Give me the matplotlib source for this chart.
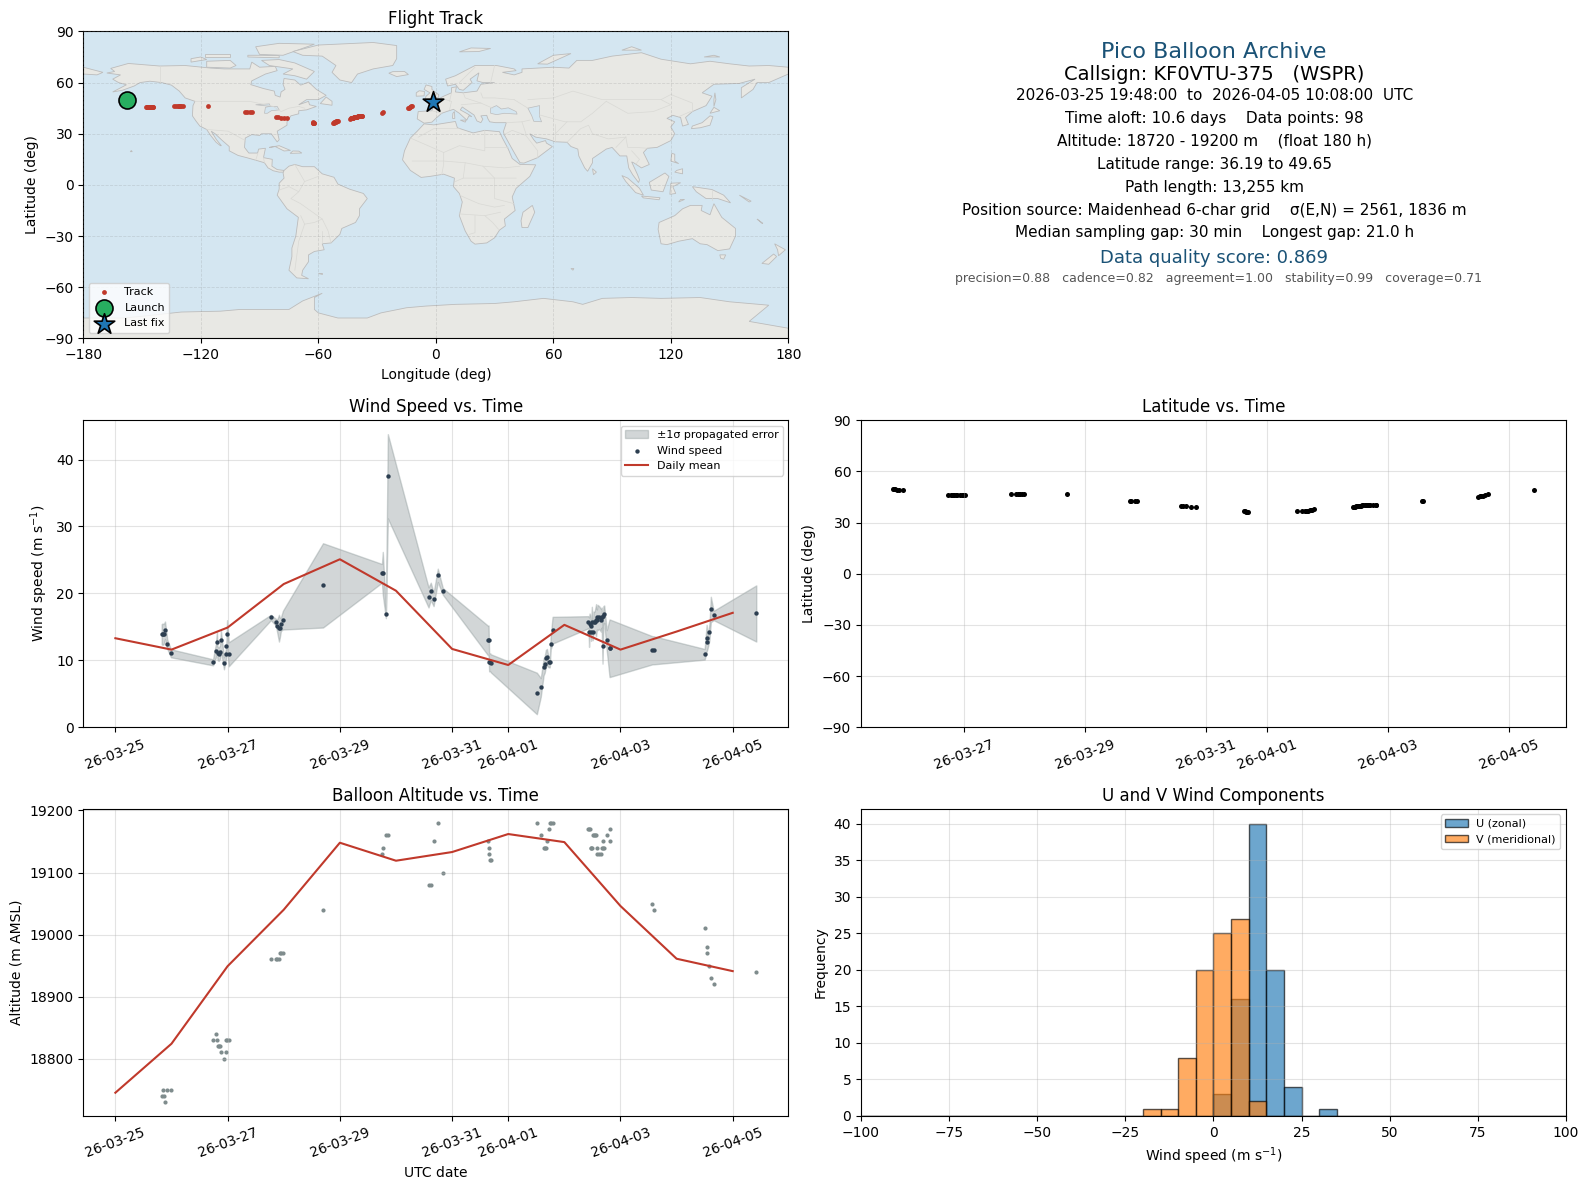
import matplotlib
matplotlib.use('Agg')
import matplotlib.pyplot as plt
import matplotlib.dates as mdates
import numpy as np
import pandas as pd

# Per-fix values, days are counted from 2026-03-25 00:00 UTC
fix_day = [0.825, 0.84, 0.86, 0.885, 0.925, 0.99,
           1.74, 1.79, 1.81, 1.82, 1.84, 1.865, 1.88, 1.935, 1.97, 1.98, 1.99, 2.02,
           2.77, 2.86, 2.885, 2.915, 2.93, 2.95, 2.985,
           3.70,
           4.75, 4.765, 4.82, 4.855,
           5.58, 5.62, 5.67, 5.745, 5.835,
           6.635, 6.65, 6.66, 6.68, 6.69,
           7.51, 7.58, 7.63, 7.65, 7.67, 7.69, 7.72, 7.74, 7.755, 7.79,
           8.43, 8.44, 8.45, 8.47, 8.475, 8.49, 8.505, 8.52, 8.54, 8.565, 8.58,
           8.59, 8.62, 8.65, 8.665, 8.68, 8.695, 8.71, 8.755, 8.805, 8.81,
           9.57, 9.59,
           10.50, 10.535, 10.55, 10.585, 10.61, 10.66,
           11.42]
wind_speed = [13.9, 13.9, 13.9, 14.5, 12.4, 11.05,
              9.7, 11.4, 12.7, 11.05, 10.9, 11.2, 13.0, 9.55, 10.9, 12.1, 14.0, 10.9,
              16.4, 15.7, 15.1, 14.8, 14.9, 15.4, 16.0,
              21.2,
              23.0, 23.0, 16.9, 37.5,
              19.4, 20.3, 19.1, 22.7, 20.3,
              13.0, 13.0, 9.7, 9.7, 9.55,
              5.05, 5.95, 9.0, 9.4, 10.3, 10.45, 9.7, 9.7, 12.5, 14.5,
              15.7, 14.2, 15.5, 15.1, 14.2, 15.8, 14.2, 15.8, 15.8, 16.0, 16.1,
              16.4, 16.4, 16.0, 16.4, 12.2, 16.6, 16.9, 13.0, 11.8, 11.8,
              11.5, 11.5,
              10.9, 13.3, 12.7, 14.2, 17.6, 16.7,
              17.0]
wind_sigma = [1.5, 1.6, 1.5, 1.3, 0.7, 0.6,
              0.45, 1.0, 1.6, 1.0, 1.0, 1.0, 1.5, 0.9, 0.8, 1.0, 2.0, 1.8,
              0.4, 0.5, 1.0, 2.0, 1.5, 1.0, 1.4,
              6.3,
              1.4, 3.2, 0.6, 6.3,
              1.5, 1.3, 1.0, 1.0, 0.5,
              2.2, 2.2, 1.35, 1.35, 1.35,
              3.1, 1.4, 1.25, 1.25, 1.25, 1.25, 0.75, 0.75, 0.9, 2.0,
              0.9, 2.2, 1.5, 1.5, 1.3, 2.2, 1.2, 1.5, 1.5, 2.4, 1.5,
              1.9, 1.7, 1.7, 1.5, 2.7, 1.5, 1.3, 1.5, 4.3, 4.3,
              2.1, 2.1,
              0.8, 2.0, 1.0, 1.2, 1.9, 0.7,
              4.2]
altitude = [18740, 18750, 18740, 18730, 18750, 18750,
            18830, 18840, 18830, 18820, 18820, 18820, 18810, 18800, 18810, 18830, 18830, 18830,
            18960, 18960, 18960, 18960, 18970, 18970, 18970,
            19040,
            19130, 19140, 19160, 19160,
            19080, 19080, 19150, 19180, 19100,
            19150, 19140, 19130, 19120, 19120,
            19180, 19160, 19140, 19140, 19140, 19150, 19170, 19180, 19180, 19180,
            19170, 19170, 19170, 19140, 19140, 19140, 19160, 19160, 19160, 19160, 19140,
            19130, 19130, 19130, 19140, 19140, 19150, 19140, 19160, 19170, 19150,
            19050, 19040,
            19010, 18980, 18970, 18950, 18930, 18920,
            18940]
latitude = [49.65, 49.6, 49.5, 49.3, 48.9, 48.8,
            45.9, 45.9, 45.9, 45.9, 45.9, 45.9, 45.9, 45.9, 45.9, 45.9, 45.9, 45.9,
            46.5, 46.5, 46.5, 46.5, 46.5, 46.5, 46.5,
            46.5,
            42.9, 42.9, 42.9, 42.9,
            39.6, 39.6, 39.5, 39.2, 39.0,
            36.7, 36.5, 36.4, 36.3, 36.19,
            36.5, 36.5, 36.6, 36.7, 36.9, 37.0, 37.2, 37.4, 37.5, 37.7,
            38.9, 39.0, 39.1, 39.3, 39.4, 39.5, 39.6, 39.7, 39.8, 39.9, 40.0,
            40.0, 40.1, 40.2, 40.2, 40.2, 40.2, 40.3, 40.3, 40.3, 40.3,
            42.4, 42.5,
            45.1, 45.3, 45.5, 45.7, 46.1, 46.5,
            48.9]
longitude = [-157.8, -157.3, -156.8, -156.3, -155.5, -154.5,
             -148, -147.7, -147.4, -147.1, -146.8, -146.5, -146.2, -145.7, -145.2, -144.9, -144.6, -144.2,
             -133.5, -132.5, -131.8, -131.2, -130.6, -130, -129.2,
             -116.4,
             -97.4, -96.6, -95, -94,
             -81.5, -80.5, -79, -77.5, -76,
             -62.8, -62.6, -62.5, -62.3, -62.2,
             -52.6, -52.2, -51.9, -51.6, -51.3, -51.1, -50.8, -50.5, -50.3, -50,
             -43.7, -43.4, -43.1, -42.8, -42.5, -42.2, -41.9, -41.6, -41.3, -41.0, -40.7,
             -40.4, -40.1, -39.8, -39.5, -39.2, -38.9, -38.6, -38.2, -37.8, -37.6,
             -27.6, -27.2,
             -14, -13.6, -13.3, -13, -12.6, -12,
             -1.5]

# Daily means, one per UTC day starting 03-25
mean_day = [0, 1, 2, 3, 4, 5, 6, 7, 8, 9, 10, 11]
wind_mean = [13.3, 11.6, 14.9, 21.4, 25.1, 20.4, 11.7, 9.3, 15.3, 11.6, 14.3, 17.1]
alt_mean = [18745, 18824, 18949, 19040, 19148, 19119, 19133, 19162, 19149, 19046, 18961, 18941]

# Histogram counts, 5 m/s bins
hist_edges = list(range(-100, 105, 5))
u_bins = {0: 3, 5: 16, 10: 40, 15: 20, 20: 4, 30: 1}
v_bins = {-20: 1, -15: 1, -10: 8, -5: 20, 0: 25, 5: 27, 10: 2}

tick_dates = ['2026-03-25', '2026-03-27', '2026-03-29', '2026-03-31',
              '2026-04-01', '2026-04-03', '2026-04-05']

info_lines = [
    ('Pico Balloon Archive', 0.932, 16, '#1a5276'),
    ('Callsign: KF0VTU-375   (WSPR)', 0.861, 14, 'black'),
    ('2026-03-25 19:48:00  to  2026-04-05 10:08:00  UTC', 0.791, 11, 'black'),
    ('Time aloft: 10.6 days    Data points: 98', 0.716, 11, 'black'),
    ('Altitude: 18720 - 19200 m    (float 180 h)', 0.643, 11, 'black'),
    ('Latitude range: 36.19 to 49.65', 0.568, 11, 'black'),
    ('Path length: 13,255 km', 0.493, 11, 'black'),
    ('Position source: Maidenhead 6-char grid    σ(E,N) = 2561, 1836 m', 0.418, 11, 'black'),
    ('Median sampling gap: 30 min    Longest gap: 21.0 h', 0.344, 11, 'black'),
    ('Data quality score: 0.869', 0.262, 13, '#1a5276'),
    ('precision=0.88   cadence=0.82   agreement=1.00   stability=0.99   coverage=0.71', 0.195, 9, '#555555'),
]

# Rough coastlines, lon/lat
land_shapes = [
    # North and Central America
    [(-168, 65.6), (-164, 66.5), (-166, 68.3), (-157, 71.2), (-141, 69.7), (-128, 70), (-115, 68.5), (-108, 68),
     (-95, 68), (-94, 72), (-90, 69), (-82, 69.5), (-81, 67), (-87, 65), (-94, 61), (-94.5, 58.8), (-88, 56.5),
     (-82.5, 55), (-82, 52.5), (-79.5, 51.5), (-79, 54.5), (-77, 56), (-78, 59), (-77.5, 62.4), (-72, 61.5),
     (-69, 58.5), (-65, 60.3), (-61, 56), (-56, 52.5), (-60, 50), (-66, 50), (-70, 47), (-65, 49), (-64.5, 47),
     (-61, 46), (-66, 44), (-70, 43.5), (-70, 41.7), (-74, 40.5), (-76, 37), (-76, 35), (-81, 31.5), (-80, 26.5),
     (-81, 25.2), (-82.8, 28), (-84, 30), (-89, 30), (-90, 29), (-94, 29.5), (-97.3, 27.5), (-97.7, 22),
     (-95.5, 18.7), (-91, 18.7), (-90.5, 21), (-87, 21.5), (-88, 16), (-83.5, 15), (-83.7, 11), (-81, 9),
     (-77.5, 8.5), (-78, 7.5), (-80, 7.5), (-83, 8.3), (-85.7, 10), (-87.5, 13), (-92, 14.5), (-96, 15.8),
     (-101, 17.3), (-105.5, 20), (-105.5, 22.5), (-109, 26), (-112.7, 30), (-114.7, 31.5), (-112, 26.5),
     (-109.5, 23), (-110, 23), (-112.2, 25), (-115, 29), (-117, 32.5), (-120.5, 34.5), (-122.5, 37.5),
     (-124.3, 40.5), (-124, 46.5), (-123, 49), (-128, 51), (-131, 55), (-135, 58.5), (-140, 60), (-146, 60.8),
     (-151, 60), (-154, 58), (-160, 55.5), (-165, 54.5), (-158, 58.7), (-162, 60), (-165, 62), (-161, 64.5)],
    # Canadian islands
    [(-80, 73.5), (-72, 71.5), (-62, 66.5), (-66, 62), (-72, 64), (-78, 65), (-73, 68), (-85, 70), (-89, 73)],
    [(-117, 69), (-105, 68.5), (-102, 70), (-105, 73), (-117, 72.5)],
    [(-125, 72), (-117, 73.5), (-120, 75), (-125, 74)],
    [(-90, 76.5), (-78, 76), (-62, 82.5), (-80, 83), (-92, 81)],
    [(-96, 75), (-80, 74.5), (-80, 75.8), (-90, 76), (-96, 76)],
    [(-118, 75), (-105, 75), (-105, 76.5), (-118, 76.5)],
    [(-59, 47.7), (-53, 46.7), (-53, 49), (-56, 51.5)],
    # Greenland, Iceland, British Isles
    [(-73, 78.2), (-60, 82), (-32, 83.5), (-20, 81.7), (-20, 74), (-22, 70), (-32, 68), (-40, 65), (-43, 60),
     (-49, 61.5), (-53, 66), (-51, 70), (-58, 75.5), (-68, 76)],
    [(-24, 65.5), (-20, 63.5), (-14, 64.7), (-16, 66.5), (-22, 66.4)],
    [(-5.5, 50), (1.3, 51.2), (1.5, 52.8), (-2, 56), (-2, 57.7), (-5, 58.6), (-6, 56), (-3, 54), (-5, 52)],
    [(-10, 52), (-6, 52.2), (-5.8, 54.8), (-8.5, 55.2), (-10, 54)],
    # Caribbean, Hawaii
    [(-85, 22), (-80, 23), (-74.2, 20.2), (-77.5, 19.9), (-82, 22.5)],
    [(-74.4, 18.5), (-68.4, 18.7), (-70, 19.8), (-73, 19.9)],
    [(-156, 19.5), (-155, 19.5), (-155.5, 20.2)],
    # South America
    [(-77.5, 8.5), (-75, 11), (-72, 12), (-68, 10.7), (-62, 10.7), (-58, 6.5), (-52, 4.5), (-50, 0.5), (-44, -2.5),
     (-37, -5), (-35, -8), (-39, -14), (-39, -18), (-41, -22), (-48, -25.5), (-49, -29), (-53.5, -34), (-58, -34.5),
     (-57, -38), (-62, -39), (-65, -41), (-65, -45), (-68, -50), (-68.5, -53), (-65, -55), (-71, -54.5), (-75, -50),
     (-73.5, -42), (-73.5, -37), (-71.5, -30), (-70.2, -19), (-76, -14), (-81, -6), (-80, -2.5), (-80, 1),
     (-77.5, 4), (-78, 7)],
    [(-60, -51.5), (-58, -51.5), (-58, -52.3)],
    # Africa
    [(-6, 35.8), (-1, 35.2), (10, 37.2), (11, 33.5), (19, 30.5), (25, 32), (32.5, 31.2), (34, 27.5), (37, 21),
     (39, 15.5), (43, 12), (51, 11.8), (48, 5), (41, -2), (39, -7), (40.5, -15), (35, -20), (35.5, -24),
     (32.5, -26.5), (30, -31), (26, -34), (20, -34.7), (18, -33), (15, -27), (12, -18), (13.5, -10), (12, -5),
     (9, -1), (9.5, 4), (4, 6.3), (-3, 5), (-7.5, 4.4), (-13, 8.5), (-17, 14.7), (-16, 20), (-13, 27.5), (-9.5, 31.5)],
    [(49.3, -12), (50.5, -16), (47, -25), (44, -25), (43.5, -21), (44.5, -16)],
    # Eurasia
    [(-9, 43), (-9.5, 38.7), (-6, 36.2), (-2, 36.8), (0, 39), (3, 42), (6, 43.2), (9, 44.3), (12, 42), (15.8, 38),
     (16.9, 40.5), (18.4, 40), (16, 41.8), (12.5, 44), (13.5, 45.7), (15, 44.5), (19.5, 41), (21, 37.5), (23, 36.5),
     (24, 38.5), (23, 40.5), (26, 40.8), (26.5, 39), (27.5, 37), (30.5, 36.5), (36, 36.5), (35, 33), (34.5, 31.3),
     (34.9, 29.5), (39, 21), (43, 13), (45, 12.8), (52, 16), (59.5, 22.5), (56.5, 24.5), (56, 26), (51.5, 24.5),
     (50, 26.5), (48, 30), (51, 28), (56.5, 27), (61, 25.3), (67, 25), (69, 22.5), (72.5, 21), (73, 17), (76, 10),
     (77.5, 8), (80, 13), (80, 15.5), (87, 21), (90, 22), (94, 17), (97.5, 17), (98.5, 10), (100.5, 6), (103.5, 1.4),
     (104, 3), (103, 6), (100, 13.5), (101, 13), (105, 10), (109, 12), (106, 19), (108, 21.5), (113, 22), (120, 26),
     (122, 30), (120, 34), (122, 37), (118, 39), (121, 40.8), (125, 39.5), (126, 34.5), (129, 35.5), (127.5, 39.5),
     (131, 43), (138, 46.5), (141, 52), (136, 54), (142, 59), (155, 59.5), (163, 62), (156, 57), (156, 51), (162, 56),
     (164, 60), (170, 60), (180, 65), (180, 69), (170, 70), (160, 69.7), (150, 71), (140, 72.5), (130, 71),
     (115, 73.7), (105, 77.5), (90, 75.5), (80, 73), (72, 73), (68, 68.5), (60, 69), (44, 68), (44, 66), (40, 64.5),
     (34, 66), (41, 67), (40, 68), (31, 70), (20, 70), (10, 64), (5, 62), (6, 58), (10, 59), (12, 56), (14, 55.5),
     (18.5, 60), (17.5, 62), (22, 65.7), (21, 61), (24, 60), (30, 60), (23, 59), (21, 55), (14, 54), (10, 54.5),
     (10.5, 57.5), (8, 57), (8, 54), (4, 52), (1.5, 50.5), (-1.5, 49.5), (-4.5, 48.5), (-1, 46), (-2, 43.5)],
    [(-180, 69), (-170, 66), (-173, 64.5), (-180, 65)],
    # Asian and Pacific islands
    [(130.5, 33), (135, 33.5), (140, 35), (141.5, 40), (140, 40.5), (136, 36.5), (131, 34.5)],
    [(140, 42), (145, 43.5), (142, 45.5)],
    [(142, 46), (143, 50), (142.5, 54), (142, 50)],
    [(120.5, 18.5), (122, 18), (122, 14), (124, 12.5), (120, 14)],
    [(122, 7.5), (126, 6.5), (126, 9.5), (123, 8.5)],
    [(109, 1.5), (117, 7), (119, 5), (117.5, 0.5), (116, -4), (110, -3)],
    [(95, 5.5), (98, 4), (104, -2), (106, -6), (102, -4.5), (97, 2)],
    [(105, -6.5), (114.5, -7.5), (114, -8.7), (106, -7.6)],
    [(119.5, -5.5), (120, 1), (125, 1.3), (121, -1), (122.5, -5)],
    [(131, -1), (141, -2.7), (147, -6), (150.5, -10.5), (144, -8), (138, -8), (133, -4)],
    [(124, -10), (127, -8.5), (125, -8.5)],
    [(80, 9.5), (82, 7.5), (80.5, 6)],
    [(114, -22), (122, -18), (126, -14), (130, -12), (136, -12), (135.5, -15), (140, -17.5), (142, -11), (146, -19),
     (153, -25.5), (153, -30), (150, -37.5), (144, -38.5), (138.5, -35), (135, -34.5), (131, -31.5), (124, -33),
     (118, -35), (115, -34.5), (113.5, -26)],
    [(145, -41), (148, -41), (147, -43.5), (145.5, -43)],
    [(173, -34.5), (178.5, -38), (175, -41.5), (174.5, -38)],
    [(172.5, -40.5), (174, -42), (170, -46.5), (166.5, -46)],
    [(164, -20), (167, -22.5), (166.5, -22.5)],
    [(155, -6), (161, -9.5), (160, -10)],
    # Arctic islands
    [(12, 78), (22, 78.2), (28, 80), (18, 80.3)],
    [(52, 71), (57, 70.8), (69, 77), (60, 76)],
    [(95, 79), (105, 79), (100, 81)],
    [(137, 75), (145, 75), (142, 76)],
    # Mediterranean and southern islands
    [(8.5, 39), (9.7, 39), (9.5, 43), (8.7, 42)],
    [(12.5, 38), (15.5, 38), (15, 36.8)],
    [(69, -49), (70.5, -49), (70, -50)],
    # Antarctica
    [(-180, -90), (-180, -78), (-160, -78), (-150, -77), (-130, -74.5), (-110, -74), (-100, -73), (-85, -73), (-75, -73),
     (-68, -68), (-58, -63.5), (-62, -66), (-62, -73), (-60, -75), (-50, -78), (-35, -78), (-28, -75), (-15, -72),
     (-5, -71), (10, -70), (30, -69.5), (40, -68.5), (55, -66.5), (70, -68.5), (75, -70), (85, -66.5), (100, -66),
     (115, -66.5), (135, -66), (150, -68.5), (170, -70.5), (160, -80), (180, -84), (180, -90)],
]
water_shapes = [
    [(28, 42), (28, 45), (31, 46.5), (33.5, 44.5), (37, 45.2), (41, 43), (41.5, 41.5), (35, 42), (31, 41.2)],
    [(47, 45), (53, 46.5), (53, 40), (54, 37), (50, 37.3), (49, 40.5)],
    [(-92, 47), (-85, 47.5), (-84.5, 46), (-88, 46.5)],
    [(-87.5, 42), (-86, 42), (-84, 43.5), (-80, 44), (-81, 46), (-85, 46), (-87, 45.5)],
]
border_lines = [
    [(-141, 69.7), (-141, 60)], [(-123, 49), (-95, 49), (-83, 46), (-79, 43), (-75, 45), (-70, 46), (-67, 45)],
    [(-117, 32.5), (-106, 31.5), (-97.3, 26)], [(-92, 14.5), (-91, 18)], [(-88, 16), (-87.5, 13)],
    [(-72, 12), (-67, 2), (-70, -4), (-74, -8), (-69, -11), (-58, -20), (-55, -27), (-53.5, -34)],
    [(-80, -3), (-75, -1), (-70, -4)], [(-67, 2), (-60, 5)], [(-69, -18), (-67, -23), (-70, -33), (-72, -50)],
    [(-58, -20), (-62, -22), (-67, -23)], [(-58, -27), (-58, -34)],
    [(-9, 28), (-1, 33), (12, 33)], [(-13, 27.5), (4, 19), (12, 23), (25, 20), (25, 32)], [(25, 22), (37, 22)],
    [(4, 19), (4, 12), (3, 6)], [(-12, 14), (4, 14), (15, 13), (24, 11), (35, 10), (43, 11)],
    [(15, 13), (14, 4), (10, 2)], [(24, 11), (30, 4), (41, 4)], [(14, 4), (30, 4), (30, -8), (40, -11)],
    [(12, -6), (22, -11), (30, -13), (35, -12)], [(12, -17), (25, -18), (33, -16)], [(20, -18), (20, -28), (17, -29)],
    [(25, -18), (29, -22), (32, -26)],
    [(-2, 43.5), (3, 42)], [(2, 51), (8, 49), (7, 44)], [(8, 54), (7, 49)], [(14, 54), (15, 51), (23, 48), (29, 45)],
    [(13, 47), (23, 48)], [(23, 54), (24, 51), (30, 51), (40, 50)], [(28, 60), (30, 70)], [(12, 60), (20, 69)],
    [(40, 50), (47, 45)], [(47, 50), (60, 51), (70, 55), (85, 50), (98, 50), (115, 50), (120, 53), (131, 48), (131, 43)],
    [(87, 49), (98, 42), (111, 43), (120, 47), (115, 50)], [(53, 41), (66, 37), (74, 37), (80, 42), (87, 49)],
    [(44, 37), (46, 30)], [(36, 36.5), (44, 37), (48, 38)], [(34.9, 29.5), (39, 32), (46, 29), (52, 20), (52, 16)],
    [(61, 25.3), (61, 36)], [(61, 30), (67, 37)], [(67, 25), (74, 33), (78, 35), (80, 30), (88, 27), (97, 28)],
    [(97, 28), (92, 22)], [(97, 28), (98, 22), (102, 22), (108, 21.5)], [(100, 20), (104, 15), (102, 12)],
    [(124, 40), (130, 43)],
    [(141, -2.7), (141, -9)],
]


def to_dates(days):
    return pd.Timestamp('2026-03-25') + pd.to_timedelta(days, unit='D')


def style_time_axis(ax):
    # set_xticks would widen the view, keep the autoscaled limits
    xlim = ax.get_xlim()
    ax.set_xticks(pd.to_datetime(tick_dates))
    ax.set_xlim(xlim)
    ax.xaxis.set_major_formatter(mdates.DateFormatter('%y-%m-%d'))
    ax.tick_params(axis='x', labelrotation=20)
    ax.grid(True, alpha=0.35)


times = to_dates(np.array(fix_day))
mean_times = to_dates(np.array(mean_day))
speed = np.array(wind_speed)
sigma = np.array(wind_sigma)

fig, axes = plt.subplots(3, 2, figsize=(15.9, 11.89), dpi=100)
fig.subplots_adjust(left=0.0524, right=0.9849, top=0.9736, bottom=0.0614, hspace=0.266, wspace=0.103)

# Map
ax = axes[0, 0]
ax.set_facecolor('#d4e6f1')
for shape in land_shapes:
    lon, lat = zip(*shape)
    ax.fill(lon, lat, facecolor='#e8e8e4', edgecolor='#bcbcbc', linewidth=0.6, zorder=1)
for shape in water_shapes:
    lon, lat = zip(*shape)
    ax.fill(lon, lat, facecolor='#d4e6f1', edgecolor='#bcbcbc', linewidth=0.5, zorder=1.1)
for line in border_lines:
    lon, lat = zip(*line)
    ax.plot(lon, lat, color='#d9d9d5', linewidth=0.5, zorder=1.2)
ax.scatter(longitude, latitude, s=12, linewidths=0, color='#c0392b', label='Track', zorder=3)
ax.scatter(longitude[0], latitude[0], s=150, color='#27ae60', edgecolor='black', linewidth=1.2, label='Launch', zorder=4)
ax.scatter(longitude[-1], latitude[-1], s=240, marker='*', color='#1f77b4', edgecolor='black', linewidth=1.2,
           label='Last fix', zorder=5)
ax.set_xlim(-180, 180)
ax.set_ylim(-90, 90)
ax.set_xticks(range(-180, 181, 60))
ax.set_yticks(range(-90, 91, 30))
ax.grid(True, color='gray', alpha=0.22, linestyle='--', linewidth=0.6, zorder=2)
ax.set_axisbelow(False)
ax.set_xlabel('Longitude (deg)')
ax.set_ylabel('Latitude (deg)')
ax.set_title('Flight Track', pad=5.5)
ax.legend(loc='lower left', fontsize=8)

# Info panel
ax = axes[0, 1]
ax.axis('off')
for text, y, size, color in info_lines:
    x = 0.507 if size == 9 else 0.501
    ax.text(x, y, text, ha='center', va='center', fontsize=size, color=color, transform=ax.transAxes)

# Wind speed
ax = axes[1, 0]
ax.fill_between(times, speed - sigma, speed + sigma, color='#7f8c8d', alpha=0.35, label='±1σ propagated error')
ax.scatter(times, speed, s=10, linewidths=0, color='#2c3e50', label='Wind speed', zorder=3)
ax.plot(mean_times, wind_mean, color='#c0392b', linewidth=1.5, label='Daily mean', zorder=4)
ax.set_ylim(bottom=0)
ax.set_ylabel('Wind speed (m s$^{-1}$)')
ax.set_title('Wind Speed vs. Time')
ax.legend(loc='upper right', fontsize=8)
style_time_axis(ax)

# Latitude
ax = axes[1, 1]
ax.scatter(times, latitude, s=13, linewidths=0, color='black')
ax.set_ylim(-90, 90)
ax.set_yticks(range(-90, 91, 30))
ax.set_ylabel('Latitude (deg)')
ax.set_title('Latitude vs. Time')
style_time_axis(ax)

# Altitude
ax = axes[2, 0]
ax.scatter(times, altitude, s=9, linewidths=0, color='#7f8c8d')
ax.plot(mean_times, alt_mean, color='#c0392b', linewidth=1.5, zorder=4)
ax.set_xlabel('UTC date')
ax.set_ylabel('Altitude (m AMSL)')
ax.set_title('Balloon Altitude vs. Time')
style_time_axis(ax)

# Wind component histogram
ax = axes[2, 1]
ax.hist(list(u_bins), bins=hist_edges, weights=list(u_bins.values()), alpha=0.65,
        color='#1f77b4', edgecolor='black', label='U (zonal)')
ax.hist(list(v_bins), bins=hist_edges, weights=list(v_bins.values()), alpha=0.65,
        color='#ff7f0e', edgecolor='black', label='V (meridional)')
ax.set_xlim(-100, 100)
ax.set_xlabel('Wind speed (m s$^{-1}$)')
ax.set_ylabel('Frequency')
ax.set_title('U and V Wind Components')
ax.grid(True, alpha=0.35)
ax.legend(loc='upper right', fontsize=8)

fig.savefig('out.png', dpi=100)
